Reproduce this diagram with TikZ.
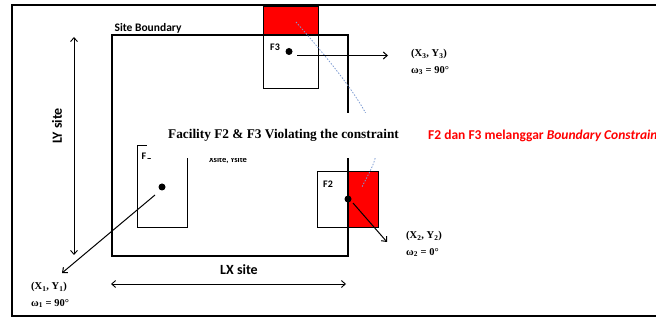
\documentclass[tikz,border=0pt]{standalone}
\usepackage{fontspec}
\setmainfont{Liberation Serif}
\newfontfamily\calibri{Carlito}
\usetikzlibrary{arrows.meta,positioning}
\definecolor{swingblue}{RGB}{125,155,210}

\begin{document}
\begin{tikzpicture}[
    x=1pt, y=-1pt,
    facbox/.style={rectangle, draw, line width=1pt, inner sep=0pt},
    centroid/.style={circle, fill=black, inner sep=0pt, minimum size=7pt},
    arrow/.style={line width=1pt, -{Straight Barb[length=4pt,width=7pt]}},
    dimarrow/.style={line width=0.9pt, {Straight Barb[length=4pt,width=7pt]}-{Straight Barb[length=4pt,width=7pt]}},
    dimlabel/.style={font=\calibri\bfseries\fontsize{14}{16}\selectfont},
    faclabel/.style={font=\calibri\bfseries\fontsize{10}{12}\selectfont, inner sep=0pt, anchor=west},
    coordlabel/.style={font=\bfseries\fontsize{10.5}{12}\selectfont, inner sep=0pt, anchor=west},
    swing/.style={draw=swingblue, line width=0.8pt, dash pattern=on 1.5pt off 1.5pt}
]
\useasboundingbox (0,0) rectangle (656,320);

% Outer frame
\draw[line width=2.5pt] (12,5) rectangle (690,316);

% Red parts outside the site
\fill[red] (263,7) rectangle (318,35);
\fill[red] (348,172) rectangle (378,228);

% Site boundary
\node[facbox, line width=1.2pt, minimum width=236pt, minimum height=221pt] (site) at (230,145.5) {};
\node[font=\calibri\bfseries\fontsize{11.5}{13}\selectfont, anchor=south west, inner sep=1pt, xshift=2pt] (sitelbl) at (site.north west) {Site Boundary};

% Facilities
\node[facbox, minimum width=55pt, minimum height=82pt] (f3box) at (290.5,48) {};
\node[facbox, minimum width=61pt, minimum height=56pt] (f2box) at (347.5,200) {};
\node[facbox, minimum width=50pt, minimum height=82pt] (f1box) at (162,187) {};
\draw[line width=1pt] (348,172) -- (348,228);

\node[faclabel] (f3lbl) at (270,47) {F3};
\node[faclabel] (f2lbl) at (323,184) {F2};
\node[faclabel] (f1lbl) at (141.5,156) {F1};

% Centroids
\node[centroid] (c3) at (289,51.5) {};
\node[centroid] (c2) at (348,199) {};
\node[centroid] (c1) at (162,187) {};

% Swing of F3 towards F2
\coordinate (sw3) at (296,22);
\coordinate (sw2) at (362,187);
\draw[swing] (sw3) .. controls (400,140) and (380,150) .. (sw2);

% Site dimensions
\coordinate (lytop) at (74,37);
\coordinate (lybot) at (74,255);
\draw[dimarrow] (lytop) -- (lybot);
\node[dimlabel, rotate=90] (lylbl) at (57,126) {LY site};

\coordinate (lxleft) at (111,284);
\coordinate (lxright) at (346,284);
\draw[dimarrow] (lxleft) -- (lxright);
\node[dimlabel] (lxlbl) at (239,270) {LX site};

% Orientation arrows
\coordinate (a3s) at (297,55.5);
\coordinate (a3e) at (388,55.5);
\draw[arrow] (a3s) -- (a3e);
\coordinate (a2s) at (353,203);
\coordinate (a2e) at (387,242);
\draw[arrow] (a2s) -- (a2e);
\coordinate (a1s) at (155,195);
\coordinate (a1e) at (62,273);
\draw[arrow] (a1s) -- (a1e);

% Coordinates and angles
\node[coordlabel] (xy3) at (411,54) {(X\textsubscript{3}, Y\textsubscript{3})};
\node[coordlabel, below=7pt of xy3.south west, anchor=north west] (w3) {ω\textsubscript{3} = 90°};
\node[coordlabel] (xy2) at (406,236) {(X\textsubscript{2}, Y\textsubscript{2})};
\node[coordlabel, below=7pt of xy2.south west, anchor=north west] (w2) {ω\textsubscript{2} = 0°};
\node[coordlabel] (xy1) at (31,287) {(X\textsubscript{1}, Y\textsubscript{1})};
\node[coordlabel, below=7pt of xy1.south west, anchor=north west] (w1) {ω\textsubscript{1} = 90°};

\node[font=\calibri\bfseries\fontsize{8.5}{10}\selectfont, inner sep=0pt] (xysite) at (228,160) {Xsite, Ysite};

% Title over the plan
\node[fill=white, minimum width=273pt, minimum height=45pt, font=\bfseries\fontsize{13.3}{15}\selectfont] (title) at (283.5,135.5) {Facility F2 \& F3 Violating the constraint};

% Note
\node[font=\calibri\bfseries\fontsize{13.5}{15}\selectfont, text=red, anchor=west, inner sep=0pt] (note) at (428,136) {F2 dan F3 melanggar \textit{Boundary Constraint}};

\end{tikzpicture}
\end{document}
